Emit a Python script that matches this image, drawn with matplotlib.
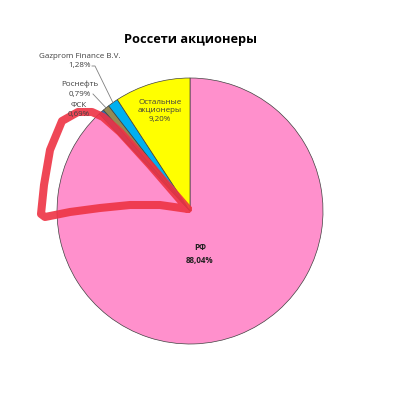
import numpy as np
import matplotlib.pyplot as plt

plt.rcParams['font.family'] = ['Open Sans', 'DejaVu Sans']

# data (clockwise from 12 o'clock, as in the reference)
names = ['РФ', 'ФСК', 'Роснефть', 'Gazprom Finance B.V.', 'Остальные\nакционеры']
shares = [88.04, 0.69, 0.79, 1.28, 9.20]
colors = ['#FF90CC', '#2E6DB4', '#948A54', '#00B0F0', '#FFFF00']

# red hand-drawn marking over the picture (pixel coords, y from top)
mark_x = [188, 150, 120, 103, 92, 78, 62, 50, 44, 41, 45, 70, 100, 130, 160, 188]
mark_y = [209, 165, 132, 117, 112, 112, 121, 150, 185, 214, 217, 212, 208, 205, 205, 209]

fig = plt.figure(figsize=(4, 4), dpi=100)
ax = fig.add_axes([0, 0, 1, 1])

cx, cy, r = 190, 400 - 211, 133
wedges, _ = ax.pie(shares, colors=colors, startangle=90, counterclock=False,
                   center=(cx, cy), radius=r, frame=True,
                   wedgeprops=dict(edgecolor='#404040', linewidth=0.5))
ax.set_xlim(0, 400)
ax.set_ylim(0, 400)
ax.axis('off')

txt = '#404040'
fs = 5.8

ax.text(191, 400 - 40, 'Россети акционеры', ha='center', va='center',
        fontsize=9.2, fontweight='bold', color='black')

# labels inside the big slices
ax.text(200, 400 - 248, names[0], ha='center', va='center', fontsize=fs,
        fontweight='bold', color='#202020')
ax.text(200, 400 - 261, '88,04%', ha='center', va='center', fontsize=fs,
        fontweight='bold', color='#202020')
ax.text(160, 400 - 111, names[4] + '\n9,20%', ha='center', va='center',
        fontsize=fs, color=txt, linespacing=1.4)

# small slices with leader lines
def mid_point(w, frac=1.0):
    a = np.deg2rad((w.theta1 + w.theta2) / 2)
    return cx + frac * r * np.cos(a), cy + frac * r * np.sin(a)

ax.text(80, 400 - 61, names[3] + '\n1,28%', ha='center', va='center',
        fontsize=fs, color=txt, linespacing=1.55)
ax.plot([92, 95, mid_point(wedges[3])[0]], [400 - 66, 400 - 66, mid_point(wedges[3])[1]],
        color='#808080', lw=0.6)

ax.text(80, 400 - 89, names[2] + '\n0,79%', ha='center', va='center',
        fontsize=fs, color=txt, linespacing=1.55)
ax.plot([93, mid_point(wedges[2])[0]], [400 - 94, mid_point(wedges[2])[1]],
        color='#808080', lw=0.6)

ax.text(79, 400 - 110, names[1] + '\n0,69%', ha='center', va='center',
        fontsize=fs, color=txt, linespacing=1.55)

ax.plot(mark_x, [400 - v for v in mark_y], color='#EE3344', lw=5.8,
        alpha=0.9, solid_capstyle='round', solid_joinstyle='round')

fig.savefig('out.png', dpi=100)
